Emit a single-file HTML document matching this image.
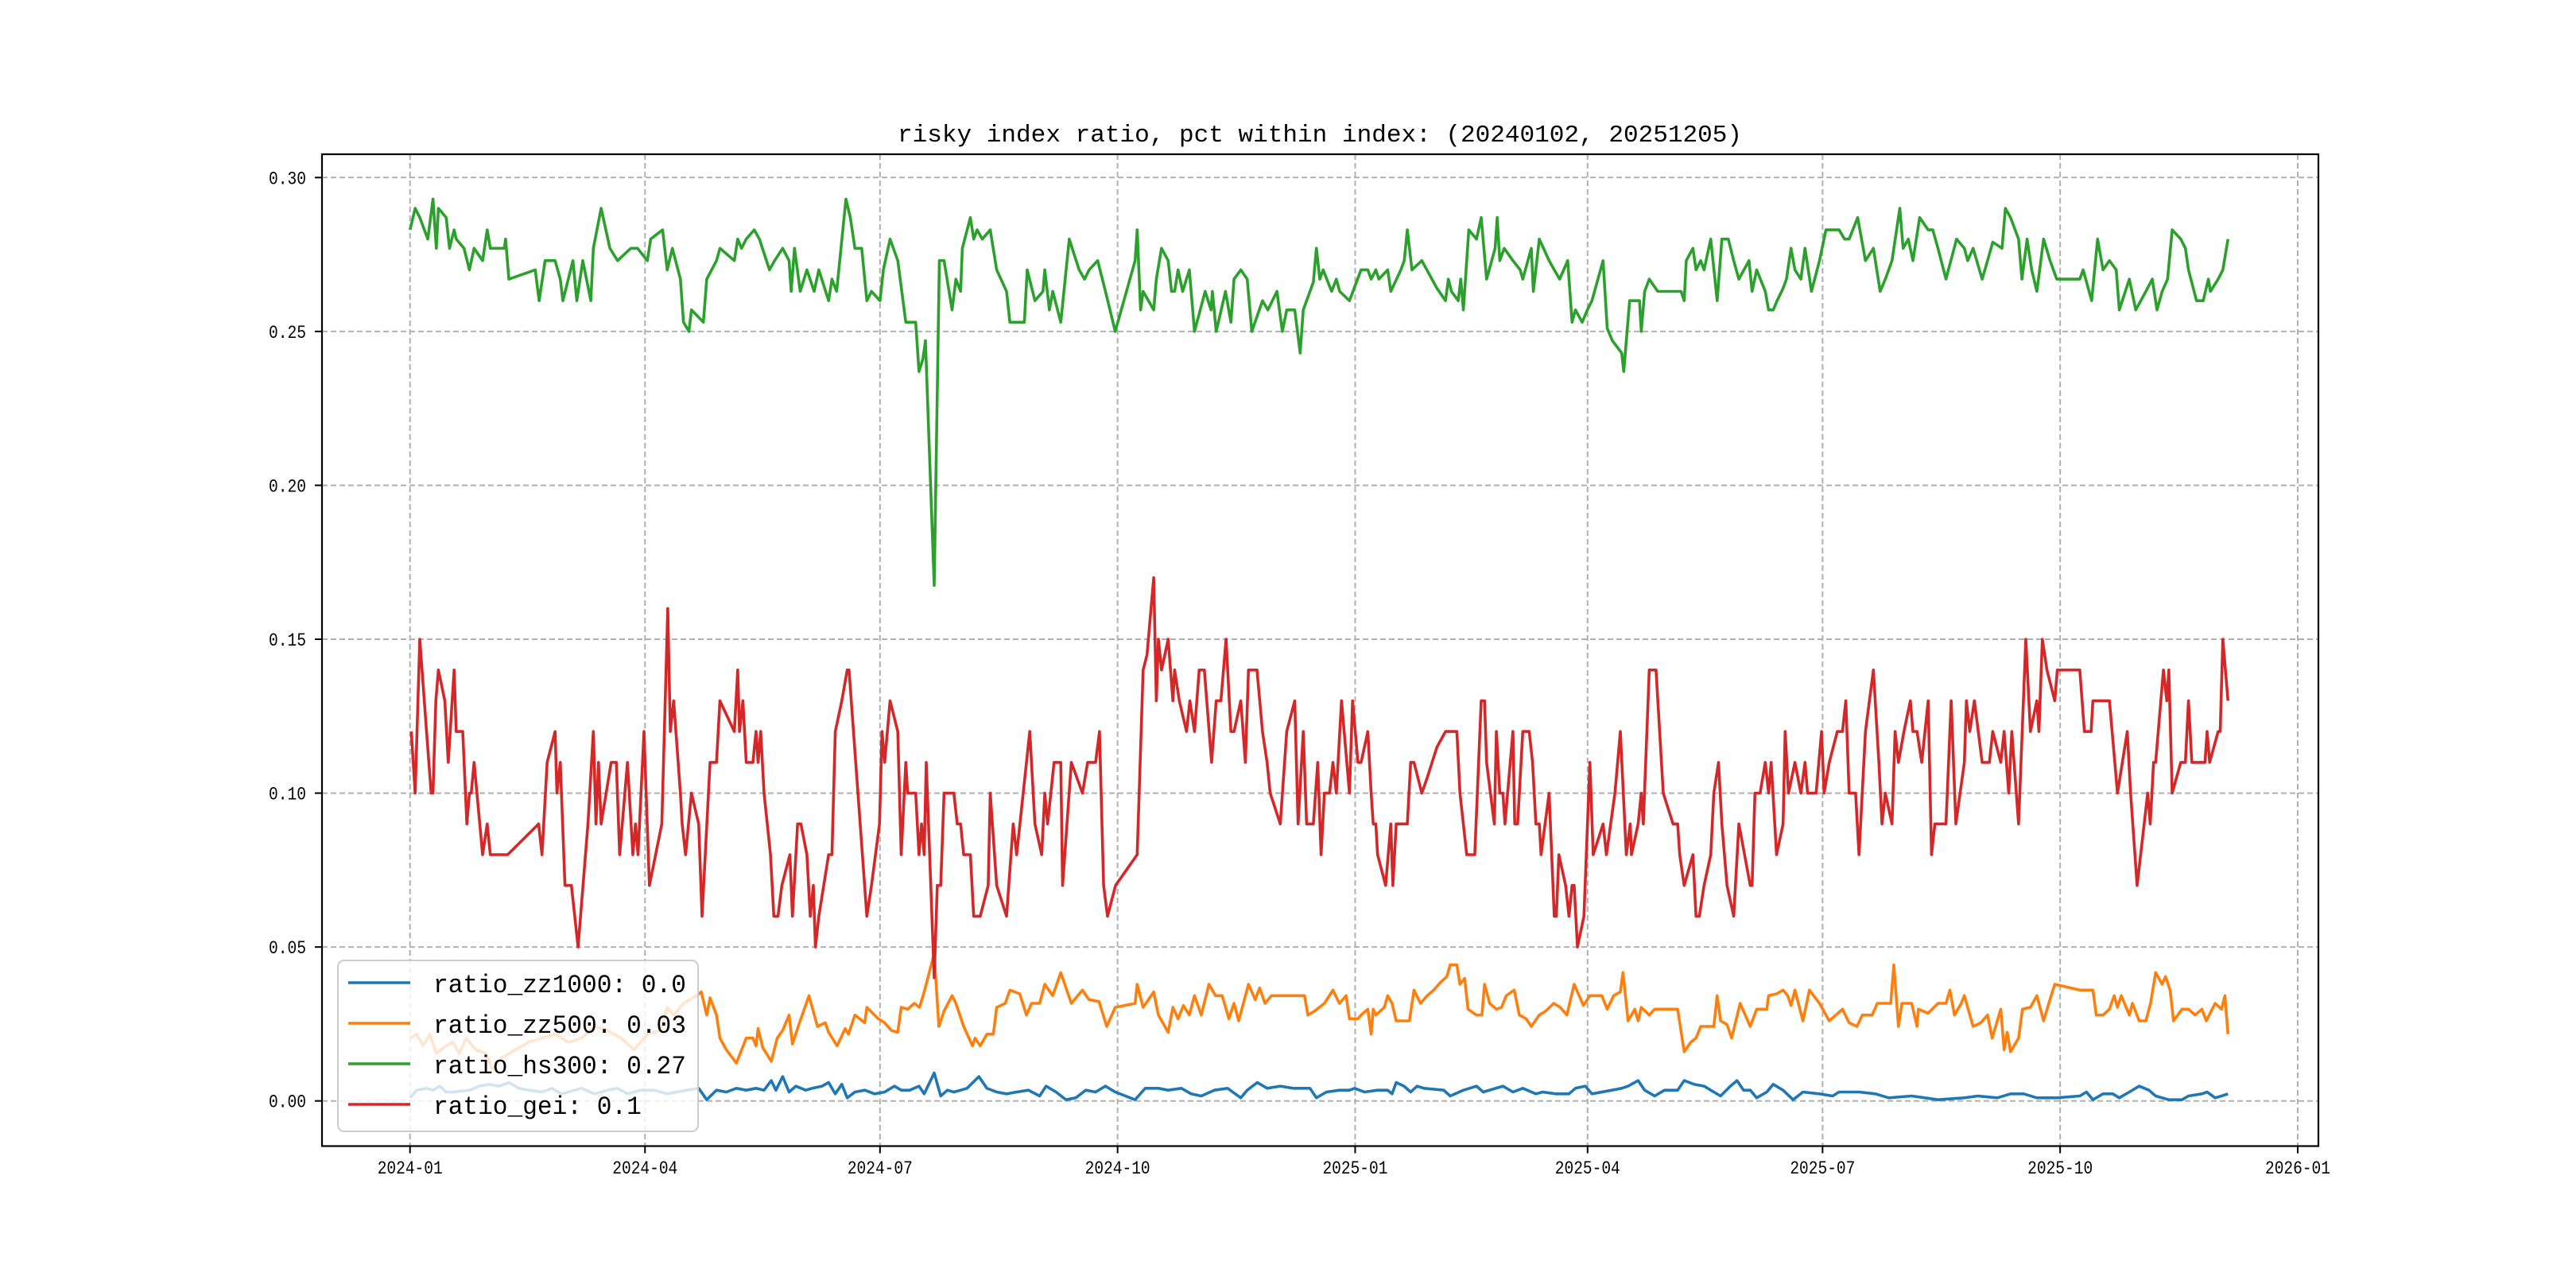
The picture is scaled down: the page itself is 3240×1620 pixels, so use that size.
<!DOCTYPE html>
<html><head><meta charset="utf-8"><style>html,body{margin:0;padding:0;background:#fff}svg{display:block}</style></head>
<body>
<svg id="chart" xmlns="http://www.w3.org/2000/svg" width="3240" height="1620" viewBox="0 0 3240 1620">
<rect width="3240" height="1620" fill="#fff"/>
<g id="grid"></g>
<g id="series"></g>
<g id="axes"></g>
<text x="1660" y="178" text-anchor="middle" font-family="Liberation Mono, monospace" font-size="31" textLength="1062" lengthAdjust="spacingAndGlyphs">risky index ratio, pct within index: (20240102, 20251205)</text>
<g id="legend"></g>
</svg>
<script>
// x values: days since 2024-01-01
const xTickLabels=["2024-01","2024-04","2024-07","2024-10","2025-01","2025-04","2025-07","2025-10","2026-01"];
const yTickValues=[0,0.05,0.10,0.15,0.20,0.25,0.30];
const yTickLabels=["0.00","0.05","0.10","0.15","0.20","0.25","0.30"];
const seriesNames=["ratio_zz1000: 0.0","ratio_zz500: 0.03","ratio_hs300: 0.27","ratio_gei: 0.1"];

const zz1000Days=[0,2.6,6.4,8.9,11.5,14,16.6,23,26.8,30.6,34.5,38.3,42.1,46,51.1,54.9,58.7,66.4,71.5,76.6,80.4,84.2,89.4,94.5,99.6,107.2,111.8,114.9,118.7,122.5,126.4,130.2,134,137.1,139.9,141.7,144.3,146.8,149.4,153.2,155.8,159.6,162.1,164.7,167.2,169.3,172.3,176.1,179.9,183.8,187.6,190.2,193.5,197.1,199.1,203,205.5,208.1,210.6,213.2,215.7,220.3,223.4,227.2,231,234.9,239.5,243.8,246.3,250.2,254,257.8,261.7,265.5,269.3,273.1,280.8,284.7,289.8,293.6,298.7,302.5,306.4,311.5,316.6,321.7,324.2,328.1,331.9,337,342.1,348.5,351,354.9,360,363.8,365.8,369.6,374.7,378.6,380.3,381.9,384.9,387.5,390,392.6,400.3,402.8,407.9,413,415.6,423.2,427.1,430.9,436,438.6,443.7,448.8,451.3,455.1,457.7,465.4,469.2,471.7,475.6,478.1,482,485.8,490.9,493.4,497.3,501.1,504.9,507.5,511.3,513.9,516.4,519,521.5,525.4,527.9,531.7,535.6,539.4,545.8,550.9,553.4,561.1,567.5,572.6,581.5,591.7,601.9,607.1,614.7,619.8,624.9,630,637.7,646.6,649.2,651.7,655.6,659.4,661.9,665.8,669.6,673.4,676,681.1,686.2,688.7,693.9,695.9,699,701.5,704];
const zz1000Vals=[.001,.0035,.0041,.0035,.0048,.0029,.0029,.0035,.0048,.0054,.0048,.006,.0041,.0035,.0029,.0041,.0023,.0041,.0023,.0035,.0041,.0023,.0035,.0035,.0023,.0035,.0041,.0004,.0035,.0029,.0041,.0035,.0041,.0035,.0066,.0035,.0079,.0029,.0048,.0035,.0041,.0048,.006,.0023,.0054,.001,.0029,.0035,.0023,.0029,.0048,.0035,.0035,.0048,.0023,.0091,.0016,.0035,.0029,.0035,.0041,.0079,.0041,.0029,.0023,.0029,.0035,.0016,.0048,.0029,.0004,.001,.0035,.0029,.0048,.0029,.0004,.0041,.0041,.0035,.0041,.0023,.0016,.0035,.0041,.001,.0035,.006,.0041,.0048,.0041,.0041,.001,.0029,.0035,.0035,.0041,.0029,.0035,.0035,.0023,.006,.0048,.0029,.0048,.0041,.0035,.0016,.0035,.0048,.0029,.0048,.0029,.0041,.0023,.0029,.0023,.0023,.0041,.0048,.0023,.0035,.0041,.0048,.0066,.0035,.0016,.0035,.0035,.0066,.0054,.0048,.0029,.0016,.0048,.0066,.0035,.0035,.001,.0029,.0054,.0035,.0004,.0029,.0023,.0016,.0029,.0029,.0023,.001,.0016,.0004,.001,.0016,.001,.0023,.0023,.001,.001,.0016,.0029,.0004,.0023,.0023,.001,.0029,.0048,.0035,.0016,.0004,.0004,.0016,.0023,.0029,.001,.0016,.0023];

const zz500Days=[0,2.6,5.1,7.7,10.2,14,16.6,19.1,21.7,25.5,29.4,31.9,35.7,40.8,45.9,51.1,56.2,61.3,66.4,71.5,76.6,81.7,86.8,91.9,97,99.6,102.1,105.9,111,112.8,114.9,116.2,118.7,120,122.5,126.4,130.2,132.8,134,134.8,136.6,139.9,142.2,144.3,146.8,148.1,150.6,154.5,157.8,160.8,162.1,165.4,168.5,169.8,172.3,176.1,176.9,181.3,183.8,186.4,188.9,190.2,192.7,195.3,197.3,199.1,203,204.8,206.8,209.9,211.4,214.4,217.8,218.8,220.8,223.4,225.9,227.2,230.5,232.3,236.1,238.7,240.7,243.8,245.8,248.9,252,256.1,260.4,262.9,266.8,269.8,273.1,280.8,281.6,283.9,288,289.8,293.6,295.4,297.4,299.5,301.8,303.8,306.4,309.4,311.9,314.5,317.1,319.1,320.9,324.7,327.3,329,331.1,333.6,340,346.4,347.7,350.3,354.1,357.4,359.9,362.5,363.8,365,367.1,368.3,370.9,372.2,373,374,377.3,378.6,380.3,381.9,387,388.8,391.3,393.9,396.4,399,401.5,402.8,405.4,406.6,408.4,409.7,413,415.1,416.1,418.1,420.7,422.7,424.5,427.6,429.6,432.2,434.2,437.3,439.8,442.9,445.4,448,450.8,454.4,456.9,461.5,463.6,466.1,468.7,469.7,471.7,474.3,475.6,476.8,479.9,482,490.9,493.4,496,498,499.8,504.9,506.2,507.5,510,511.8,515.1,519,521.5,525.4,526.1,529.2,531.7,533.5,534.8,536.3,539.4,541.9,545.8,549.6,553,554.7,557.3,560.3,562.4,566.2,568.2,571.3,573.4,574.6,576.4,577.7,581.5,583.6,584.1,587.9,591.7,594.8,596.3,598.1,600.7,601.9,605.3,608.3,610.9,612.7,616,617.3,618.5,619.8,622.9,624.4,627.5,630,632.6,634.6,636.9,646.6,651.7,653,655.6,658.1,659.9,661.2,662.7,665.8,667,669.6,672.2,674,676,678.5,679.8,681.6,682.9,686.2,688.7,691.3,693.9,695.6,699,701.5,702.8,704];
const zz500Vals=[.0204,.0217,.0179,.0217,.0154,.0179,.0191,.0154,.0204,.0166,.0154,.0104,.0141,.0166,.0191,.0204,.0217,.0191,.0204,.0242,.0229,.0204,.0166,.0217,.0229,.0304,.0279,.0317,.0342,.0354,.0279,.0335,.0279,.0204,.0166,.0123,.0204,.0204,.0179,.0235,.0173,.0129,.0204,.0229,.0279,.0185,.0248,.0342,.0242,.0254,.0223,.0179,.0235,.0217,.0279,.0254,.0304,.0267,.0254,.0229,.0223,.0304,.0298,.0317,.0304,.0354,.0479,.0242,.0292,.0342,.0317,.0242,.0179,.0204,.0179,.0217,.0217,.0304,.0317,.036,.0348,.0279,.0317,.0317,.0379,.0342,.0417,.0317,.036,.0329,.0323,.0242,.0304,.0317,.0379,.0304,.0354,.0279,.0223,.0304,.0267,.031,.0279,.0342,.0279,.0379,.0342,.0342,.0267,.0317,.026,.0379,.0329,.0367,.0317,.0342,.0342,.0342,.0279,.0292,.0317,.036,.0317,.0342,.0267,.0267,.0267,.0279,.0298,.0217,.0298,.0279,.0304,.0342,.0317,.026,.026,.036,.0317,.0342,.036,.0385,.0404,.0442,.0442,.0379,.0398,.0298,.0279,.0279,.0379,.0317,.0298,.0304,.0342,.036,.0279,.0267,.0242,.0279,.0292,.0317,.0304,.0279,.0379,.031,.0342,.0342,.0298,.0342,.0354,.0417,.026,.0298,.026,.0304,.0279,.0298,.0298,.016,.0191,.0204,.0242,.0242,.0342,.026,.0248,.0204,.0317,.0242,.0298,.0298,.0342,.0348,.036,.0342,.031,.036,.026,.036,.0317,.026,.0285,.0298,.0254,.0242,.0279,.0279,.0317,.0317,.0317,.0442,.0242,.0317,.0317,.0242,.0298,.0285,.0317,.0317,.036,.0279,.0317,.0342,.0242,.0254,.0279,.0204,.0298,.0166,.0223,.016,.0204,.0298,.0304,.0342,.026,.0317,.0379,.036,.036,.0279,.0279,.0298,.0342,.0304,.0342,.0279,.0317,.026,.026,.0317,.0417,.0379,.0404,.036,.026,.0298,.0298,.0279,.0298,.026,.0317,.0298,.0342,.0217];

const hs300Days=[0,2,3.8,6.9,8.9,10.2,11,14,15.3,17.1,17.9,20.9,23,24.8,28.1,29.9,31.1,36.5,37,38.3,48.5,50,52.3,56.2,58.2,59.2,63.1,64.6,66.9,70,71,74,77.4,80.4,85.5,88.1,91.9,93.2,97.8,99.6,101.6,104.7,105.9,108,109,113.6,114.9,118.7,120,125.6,126.9,128.4,130.2,133.3,135.3,139.2,141.2,144.3,146.8,147.6,148.9,151.1,153.7,156.5,158.3,162.1,163.4,165.2,168.8,170.5,172.3,174.9,176.9,178.7,182,183.3,185.9,188.9,192,195.8,197.1,198.6,199.6,203,205,206.8,209.9,211.4,213.2,213.9,217,218.3,219.6,221.6,224.7,227.2,231,232.3,237.9,239,242,245.1,245.8,247.6,248.9,252,255.3,259.1,261.2,263,266.3,269.3,273.1,280.8,281.6,282.9,283.9,288,289,291,293.6,294.9,296.1,297.4,299.2,301.8,303.8,307.9,310.2,310.7,312.2,315.8,317.9,319.1,321.7,324.2,326,330.1,332.2,335.7,337.8,339.5,342.6,344.7,345.9,349.8,351,352.3,353.6,356.9,358.7,360,363.8,368.3,370.9,372.2,374,375.2,378.6,379.8,383.7,385,386.2,388,391.8,397.7,401,402.1,403.3,405.9,406.9,407.9,410,413,414.8,416.9,420.2,421,422,423.7,427.1,429.9,430.9,434.2,435,437.3,441.1,443.1,445.2,448.3,450,451.3,453.9,455.9,457.7,462,463.6,465.6,469.2,470,472.3,476.1,476.8,478.1,479.9,483.2,492.2,493.4,494.2,496.8,498,499.8,501.1,503.7,506.2,508,510.5,512.6,514.6,518.5,519.7,521.5,524.8,526.1,527.9,529.4,531.7,533,534.8,536.3,538.6,540.2,542.7,545.8,548.3,553.4,555.5,557.3,560.6,563.6,566.7,569.3,571.3,573.9,576.9,578.2,580.2,582,584.6,587.9,589.7,591.7,594.8,598.9,601.9,603.2,605.3,608.8,610.9,612.9,616.5,617.8,619.8,622.9,624.2,626.2,628,630,632.6,635.1,637.7,646.6,647.9,651.2,653.5,655.6,658.1,660.7,661.9,665.8,668.3,672.2,674.7,676.5,678.5,680.6,682.4,685.7,687.5,688.7,691.8,694.4,696.4,697.2,700.2,702,704];
const hs300Vals=[.283,.290,.287,.280,.293,.277,.290,.287,.277,.283,.280,.277,.270,.277,.273,.283,.277,.277,.280,.267,.270,.260,.273,.273,.267,.260,.273,.260,.273,.260,.277,.290,.277,.273,.277,.277,.273,.280,.283,.270,.277,.267,.253,.250,.257,.253,.267,.273,.277,.273,.280,.277,.280,.283,.280,.270,.273,.277,.273,.263,.277,.263,.270,.263,.270,.260,.267,.263,.293,.287,.277,.277,.260,.263,.260,.270,.280,.273,.253,.253,.237,.241,.247,.1675,.273,.273,.257,.267,.263,.277,.287,.280,.283,.280,.283,.270,.263,.253,.253,.270,.260,.263,.270,.257,.263,.253,.280,.270,.267,.270,.273,.263,.250,.273,.283,.257,.263,.257,.267,.277,.273,.263,.263,.270,.263,.270,.250,.263,.257,.263,.250,.263,.253,.267,.270,.267,.250,.260,.257,.263,.250,.257,.257,.243,.257,.266,.277,.267,.270,.263,.267,.263,.260,.270,.270,.267,.270,.267,.270,.263,.270,.273,.283,.270,.273,.264,.260,.267,.263,.260,.267,.257,.283,.280,.287,.267,.277,.287,.273,.277,.273,.270,.267,.277,.263,.280,.273,.270,.267,.273,.253,.257,.253,.257,.260,.273,.251,.247,.243,.237,.260,.260,.250,.263,.267,.263,.263,.260,.273,.277,.270,.273,.270,.280,.260,.280,.280,.273,.267,.273,.263,.270,.263,.257,.257,.260,.264,.267,.277,.270,.267,.277,.263,.273,.283,.283,.280,.280,.287,.273,.277,.263,.267,.273,.290,.277,.280,.273,.287,.283,.283,.277,.267,.280,.277,.273,.277,.267,.273,.279,.277,.290,.287,.280,.267,.280,.270,.263,.280,.273,.267,.267,.270,.260,.280,.270,.273,.270,.257,.267,.257,.263,.267,.257,.263,.267,.283,.280,.277,.270,.260,.260,.267,.263,.267,.270,.280];

const geiDays=[0.5,2,3.8,6.4,8.2,8.9,10,11,13.5,14.8,17.1,17.9,20.4,22,23,23.7,24.8,28.1,29.9,31.1,37.8,49.8,51.1,53.1,56.2,56.9,58.2,60,62.5,65.1,68.9,71,72,73,74,77.9,79.9,81.2,84.2,86.3,87.3,88.3,90.6,92.7,97.5,99.8,100.8,102.1,104.7,105.4,106.7,109,111.8,113.1,116.2,118.7,120,125.6,126.9,127.6,128.9,130.2,132.8,134,134.8,135.8,137.1,139.6,140.9,142.5,144,147.1,148.1,150.1,151.4,153.7,155,156.2,157,158.3,162.1,163.4,164.7,167.2,169.3,170,176.9,178.7,181.8,182.8,183.8,185.9,188.9,190.2,192,192.7,195.8,197.1,198.1,199.1,199.9,203,204.2,205.5,206.8,210.6,211.9,213.2,214.4,217,218.3,220.8,223.9,224.7,227.2,231,233.6,234.9,240,242,244.6,245.8,246.9,249.4,252,252.7,256.1,260.4,262.4,265.5,267,268.6,270.1,273.2,281.6,283.9,285.4,288,289,289.8,291,293.6,295.4,296.1,297.9,300.7,302,303.8,305.6,307.6,310.4,312.2,314,316,317.9,319.1,321.7,323.5,324.7,328,330.1,331.9,333.1,337,339.5,342.6,343.9,345.9,347.2,349.8,351.5,352.8,354.1,356.1,357.4,358.7,360.7,363.8,365,367.1,368.3,370.9,372.2,373,374,374.7,377.8,379.8,380.6,381.9,386.2,387.5,388.8,391.8,393.9,397.7,401,405.4,406.6,409.2,412.3,414.8,416.1,416.9,419.9,420.7,422,423.2,424,427.1,427.8,428.9,430.9,433.4,434.7,436,437.3,438,441.1,443.1,443.9,444.9,447.5,448.8,450,450.8,452.1,454.6,456.9,458.2,462,463.3,466.6,468.7,471,472.5,473,475.6,476.8,477.6,479.9,482.5,485.3,489.1,490.9,491.7,493.4,496.8,498,499.3,501.1,503.7,504.9,506.7,508,510,512.6,514.6,519,519.7,520.8,522.8,524.8,526.1,527.1,529.2,531.7,532.5,533.8,536.3,538.6,540.2,541.2,544.5,546.6,547.6,549.6,552.7,554.7,556,557.3,559.8,561.1,563.6,566.7,568.8,570,571.3,573.9,575.1,576.4,578.5,581,582,583.6,585.4,587.9,589.2,590.5,594.8,596.8,598.6,601.9,602.7,604,605.8,608.8,611.6,612.9,616,617.3,619.1,620.3,622.9,625.7,627.5,630,630.8,632.1,633.9,636.9,637.9,646.6,648.4,651,651.7,658.1,661.2,665,666.3,668.8,672.9,673.9,675.2,676,679,680.3,681.1,682.4,685.7,687.5,688.7,690,695.1,695.9,696.9,700.2,701,702,704];
const geiVals=[.12,.10,.15,.12,.10,.10,.13,.14,.13,.11,.14,.12,.12,.09,.10,.10,.11,.08,.09,.08,.08,.09,.08,.11,.12,.10,.11,.07,.07,.05,.09,.12,.09,.11,.09,.11,.11,.08,.11,.08,.09,.08,.12,.07,.09,.16,.12,.13,.10,.09,.08,.10,.09,.06,.11,.11,.13,.12,.14,.12,.13,.11,.11,.12,.11,.12,.10,.08,.06,.06,.07,.08,.06,.09,.09,.08,.06,.07,.05,.06,.08,.08,.12,.13,.14,.14,.06,.07,.09,.12,.11,.13,.12,.08,.11,.10,.10,.08,.09,.08,.11,.04,.07,.07,.10,.10,.09,.09,.08,.08,.06,.06,.07,.10,.07,.06,.09,.08,.12,.09,.08,.10,.09,.11,.11,.07,.11,.10,.11,.11,.12,.07,.06,.07,.08,.14,.145,.17,.13,.15,.14,.15,.13,.14,.13,.12,.13,.12,.14,.14,.11,.13,.13,.15,.12,.12,.13,.11,.14,.14,.12,.11,.10,.09,.12,.13,.09,.12,.09,.09,.11,.08,.10,.10,.11,.10,.13,.10,.13,.11,.11,.12,.10,.09,.09,.08,.07,.09,.07,.09,.09,.11,.11,.10,.105,.115,.12,.12,.10,.08,.08,.13,.13,.11,.09,.12,.10,.10,.09,.12,.09,.09,.12,.12,.11,.09,.09,.08,.10,.06,.06,.08,.07,.06,.07,.07,.05,.06,.11,.08,.09,.08,.10,.12,.08,.09,.08,.09,.10,.09,.14,.14,.10,.09,.09,.08,.07,.08,.06,.06,.07,.08,.10,.11,.09,.07,.06,.09,.07,.07,.10,.10,.11,.10,.11,.08,.09,.12,.10,.11,.10,.11,.10,.10,.12,.10,.11,.12,.12,.13,.10,.10,.08,.12,.14,.11,.09,.10,.09,.12,.11,.12,.13,.12,.12,.11,.13,.08,.09,.09,.13,.09,.11,.13,.12,.13,.11,.11,.12,.11,.12,.10,.12,.09,.15,.12,.13,.12,.15,.14,.13,.14,.14,.12,.12,.13,.13,.10,.12,.10,.07,.10,.09,.11,.11,.14,.13,.14,.10,.11,.11,.13,.11,.11,.12,.11,.12,.12,.15,.13];

const NS="http://www.w3.org/2000/svg";
const L=405,R=2916,T=194,B=1441.5;
const X0=515.7, PX_PER_DAY=3.248;
const Y0=1384.7, PX_PER_UNIT=3871.3;
function xScale(day){return X0+day*PX_PER_DAY;}
function yScale(v){return Y0-v*PX_PER_UNIT;}
function dayOf(label){const p=label.split("-");return (Date.UTC(+p[0],+p[1]-1,1)-Date.UTC(2024,0,1))/86400000;}
function mk(tag,attrs,parent){const e=document.createElementNS(NS,tag);for(const k in attrs)e.setAttribute(k,attrs[k]);parent.appendChild(e);return e;}

const grid=document.getElementById("grid"),axes=document.getElementById("axes"),ser=document.getElementById("series"),leg=document.getElementById("legend");
xTickLabels.forEach(lab=>{
  const x=xScale(dayOf(lab));
  const g=mk("line",{x1:x,x2:x,y1:T,y2:B,stroke:"#b0b0b0","stroke-width":2,"stroke-dasharray":"7,4"},grid);
  
  
  const t=mk("line",{x1:x,x2:x,y1:B,y2:B+9,stroke:"#000","stroke-width":2},axes);
  
  
  const tx=mk("text",{x:x,y:1476,"text-anchor":"middle","font-family":"Liberation Mono, monospace","font-size":23,textLength:82,lengthAdjust:"spacingAndGlyphs"},axes);
  tx.textContent=lab;
  
  
});
yTickValues.forEach((v,i)=>{
  const y=yScale(v);
  const g=mk("line",{x1:L,x2:R,y1:y,y2:y,stroke:"#b0b0b0","stroke-width":2,"stroke-dasharray":"7,4"},grid);
  
  
  const t=mk("line",{x1:L-9,x2:L,y1:y,y2:y,stroke:"#000","stroke-width":2},axes);
  
  
  const tx=mk("text",{x:385,y:y+8,"text-anchor":"end","font-family":"Liberation Mono, monospace","font-size":23,textLength:47,lengthAdjust:"spacingAndGlyphs"},axes);
  tx.textContent=yTickLabels[i];
  
  
});
const frame=mk("rect",{x:L,y:T,width:R-L,height:B-T,fill:"none",stroke:"#000","stroke-width":2.2},axes);



const colors=["#1f77b4","#ff7f0e","#2ca02c","#d62728"];
const allDays=[zz1000Days,zz500Days,hs300Days,geiDays];
const allVals=[zz1000Vals,zz500Vals,hs300Vals,geiVals];
const lineNames=["line-zz1000","line-zz500","line-hs300","line-gei"];
allDays.forEach((days,s)=>{
  const vals=allVals[s];
  const d=days.map((dd,i)=>(i?"L":"M")+xScale(dd).toFixed(1)+","+yScale(vals[i]).toFixed(1)).join("");
  const p=mk("path",{d:d,fill:"none",stroke:colors[s],"stroke-width":3.6,"stroke-linejoin":"round"},ser);
  
  
});

const box=mk("rect",{x:425,y:1208,width:453,height:215,rx:8,fill:"#fff","fill-opacity":0.8,stroke:"#cccccc","stroke-width":2},leg);


const legY=[1236,1287,1338,1389];
seriesNames.forEach((n,i)=>{
  const ln=mk("line",{x1:438,x2:516,y1:legY[i],y2:legY[i],stroke:colors[i],"stroke-width":3.6},leg);
  
  
  const t=mk("text",{x:545,y:legY[i]+12,"font-family":"Liberation Mono, monospace","font-size":32,textLength:n.length*18.7,lengthAdjust:"spacingAndGlyphs"},leg);
  t.textContent=n;
  
  
});
</script>
</body></html>
